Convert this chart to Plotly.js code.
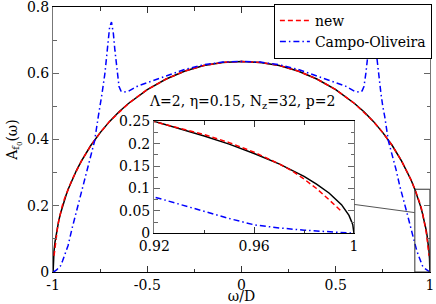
<!DOCTYPE html>
<html><head><meta charset="utf-8">
<script src="https://cdn.plot.ly/plotly-3.0.1.min.js"></script>
<style>html,body{margin:0;padding:0;background:#fff}#plot{width:436px;height:304px}</style>
</head><body><div id="plot"></div>
<script>
// exact result (black solid)
var wExact = [-1,-0.9995,-0.998,-0.995,-0.99,-0.985,-0.98,-0.97,-0.96,-0.95,-0.94,-0.93,-0.92,-0.9,-0.875,-0.85,-0.8,-0.75,-0.7,-0.65,-0.6,-0.5,-0.4,-0.3,-0.2,-0.1,0,
  0.1,0.2,0.3,0.4,0.5,0.6,0.65,0.7,0.75,0.8,0.85,0.875,0.9,0.92,0.93,0.94,0.95,0.96,0.97,0.98,0.985,0.99,0.995,0.998,0.9995,1];
var aExact = [0,0.020,0.040,0.064,0.090,0.110,0.127,0.155,0.178,0.199,0.217,0.234,0.250,0.278,0.308,0.335,0.382,0.421,0.455,0.484,0.509,0.551,0.583,0.607,0.624,0.633,0.636,
  0.633,0.624,0.607,0.583,0.551,0.509,0.484,0.455,0.421,0.382,0.335,0.308,0.278,0.250,0.234,0.217,0.199,0.178,0.155,0.127,0.110,0.090,0.064,0.040,0.020,0];
// "new" (red dashed)
var wNew = [-0.995,-0.99,-0.985,-0.98,-0.975,-0.97,-0.96,-0.95,-0.94,-0.93,-0.92,-0.9,-0.85,-0.8,-0.75,-0.7,-0.6,-0.5,-0.4,-0.3,-0.2,-0.1,0,
  0.1,0.2,0.3,0.4,0.5,0.6,0.7,0.75,0.8,0.85,0.9,0.92,0.93,0.94,0.95,0.96,0.97,0.975,0.98,0.985,0.99,0.995];
var aNew = [0.049,0.075,0.100,0.121,0.140,0.155,0.181,0.2025,0.2205,0.236,0.250,0.278,0.335,0.382,0.421,0.455,0.509,0.551,0.583,0.607,0.624,0.633,0.636,
  0.633,0.624,0.607,0.583,0.551,0.509,0.455,0.421,0.382,0.335,0.278,0.250,0.236,0.2205,0.2025,0.181,0.155,0.140,0.121,0.100,0.075,0.049];
// Campo-Oliveira (blue dash-dot)
var wCO = [-1,-0.995,-0.99,-0.98,-0.97,-0.96,-0.95,-0.94,-0.93,-0.92,-0.9,-0.88,-0.86,-0.84,-0.82,-0.8,-0.78,-0.76,-0.75,-0.74,-0.725,-0.708,-0.7,-0.69,-0.68,-0.672,-0.66,-0.65,-0.64,-0.628,-0.6,-0.55,-0.5,-0.45,-0.4,-0.3,-0.2,-0.1,0,
  0.1,0.2,0.3,0.4,0.45,0.5,0.55,0.6,0.628,0.64,0.65,0.66,0.672,0.68,0.69,0.7,0.708,0.725,0.74,0.75,0.76,0.78,0.8,0.82,0.84,0.86,0.88,0.9,0.92,0.93,0.94,0.95,0.96,0.97,0.98,0.99,0.995,1];
var aCO = [0,0.001,0.003,0.007,0.012,0.019,0.033,0.049,0.065,0.081,0.13,0.175,0.22,0.26,0.31,0.355,0.395,0.47,0.50,0.54,0.60,0.70,0.74,0.755,0.72,0.67,0.60,0.56,0.547,0.543,0.546,0.562,0.572,0.581,0.592,0.612,0.626,0.634,0.636,
  0.634,0.626,0.612,0.592,0.581,0.572,0.562,0.546,0.543,0.547,0.56,0.60,0.67,0.72,0.755,0.74,0.70,0.60,0.54,0.50,0.47,0.395,0.355,0.31,0.26,0.22,0.175,0.13,0.081,0.065,0.049,0.033,0.019,0.012,0.007,0.003,0.001,0];

var xTickVals = [-1,-0.5,0,0.5,1];
var xTickText = ['-1','-0.5','0','0.5','1'];
var yTickVals = [0,0.2,0.4,0.6,0.8];
var yTickText = ['0','0.2','0.4','0.6','0.8'];
var insetXTickVals = [0.92,0.96,1];
var insetXTickText = ['0.92','0.96','1'];
var insetYTickVals = [0,0.05,0.1,0.15,0.2,0.25];
var insetYTickText = ['0','0.05','0.1','0.15','0.2','0.25'];
var insetXRange = [0.92,1];
var insetYRange = [0,0.25];

var FONT = 'DejaVu Serif';
var FS = 14;
var dashNew = '5px,3px';
var dashCO = '6px,3px,1.5px,3px';

function mk(x,y,name,color,dash,xa,ya,show){
  return {x:x,y:y,name:name,type:'scatter',mode:'lines',xaxis:xa,yaxis:ya,showlegend:show,
    line:{color:color,width:1.5,dash:dash}};
}
var data = [
  mk(wExact,aExact,'exact','#000000','solid','x','y',false),
  mk(wNew,aNew,'new','#ff0000',dashNew,'x','y',true),
  mk(wCO,aCO,'Campo-Oliveira','#0000ff',dashCO,'x','y',true),
  mk(wExact,aExact,'exact','#000000','solid','x2','y2',false),
  mk(wNew,aNew,'new','#ff0000',dashNew,'x2','y2',false),
  mk(wCO,aCO,'Campo-Oliveira','#0000ff',dashCO,'x2','y2',false)
];

var insetDomX = [0.268,0.799];
var insetDomY = [0.146,0.569];

function axBase(isY){
  return {showline:true,mirror:'allticks',linecolor:isY?'#777':'#000',linewidth:1,
    ticks:'inside',ticklen:6,tickcolor:isY?'#666':'#333',tickwidth:1,ticklabeloverflow:'allow',
    showgrid:false,zeroline:false,tickfont:{family:FONT,size:FS,color:'#000'}};
}
var xaxis = Object.assign(axBase(false),{range:[-1.0005,1.0005],domain:[0,1],tickmode:'array',tickvals:xTickVals,ticktext:xTickText,
  minor:{dtick:0.25,tick0:0,ticks:'inside',ticklen:3.5,tickcolor:'#333',showgrid:false},
  title:{text:'ω/D',font:{family:FONT,size:FS,color:'#000'},standoff:3}});
var yaxis = Object.assign(axBase(true),{range:[0,0.8005],domain:[0,1],tickmode:'array',tickvals:yTickVals,ticktext:yTickText,
  minor:{dtick:0.1,tick0:0,ticks:'inside',ticklen:3.5,tickcolor:'#666',showgrid:false},
  title:{text:'A<sub>f<sub>0</sub></sub>(ω)',font:{family:FONT,size:FS,color:'#000'},standoff:6}});
var xaxis2 = Object.assign(axBase(false),{anchor:'y2',range:[0.9199,1.0001],domain:insetDomX,tickmode:'array',tickvals:insetXTickVals,ticktext:insetXTickText,
  minor:{dtick:0.02,tick0:0.92,ticks:'inside',ticklen:3.5,tickcolor:'#333',showgrid:false}});
var yaxis2 = Object.assign(axBase(true),{anchor:'x2',range:[0,0.2502],domain:insetDomY,tickmode:'array',tickvals:insetYTickVals,ticktext:insetYTickText,
  minor:{dtick:0.025,tick0:0,ticks:'inside',ticklen:3.5,tickcolor:'#666',showgrid:false}});

var layout = {
  width:436,height:304,margin:{l:53,r:4,t:7,b:32},
  paper_bgcolor:'#fff',plot_bgcolor:'#fff',
  font:{family:FONT,size:FS,color:'#000'},
  xaxis:xaxis,yaxis:yaxis,xaxis2:xaxis2,yaxis2:yaxis2,
  showlegend:true,
  legend:{x:1.005,y:1.012,xanchor:'right',yanchor:'top',bgcolor:'#fff',bordercolor:'#000',borderwidth:1,
    font:{family:FONT,size:FS,color:'#000'},itemwidth:30,tracegroupgap:0},
  shapes:[
    {type:'rect',xref:'x',yref:'y',x0:insetXRange[0],x1:insetXRange[1],y0:insetYRange[0],y1:insetYRange[1],
      line:{color:'#333',width:1},fillcolor:'rgba(0,0,0,0)'},
    {type:'line',xref:'paper',yref:'paper',x0:insetDomX[1],y0:0.255,x1:(insetXRange[0]+1)/2,y1:0.224,
      line:{color:'#555',width:1}}
  ],
  annotations:[
    {xref:'paper',yref:'paper',x:0.502,y:0.642,xanchor:'center',yanchor:'middle',showarrow:false,
      text:'Λ=2, η=0.15, N<sub>z</sub>=32, p=2',font:{family:FONT,size:FS,color:'#000'}}
  ]
};
Plotly.newPlot('plot',data,layout,{displayModeBar:false,staticPlot:true});
</script></body></html>
